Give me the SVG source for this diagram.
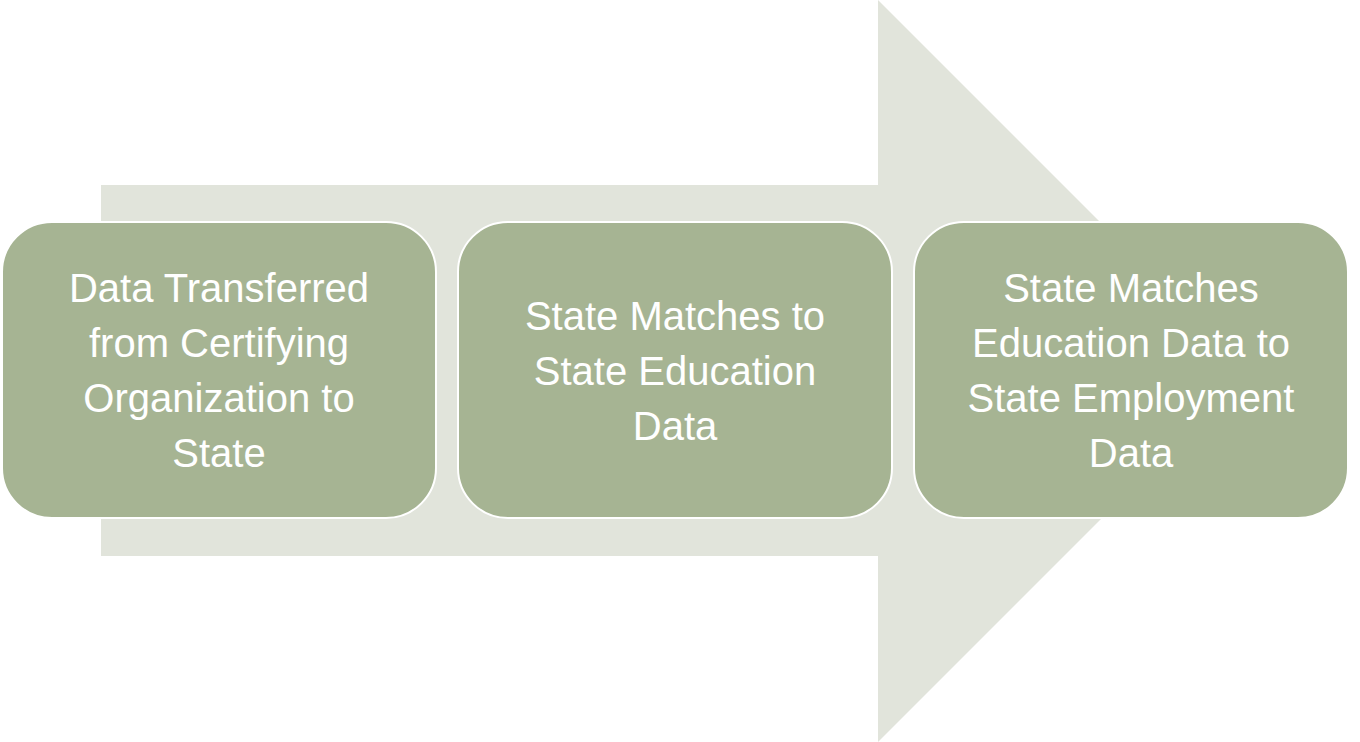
<svg xmlns="http://www.w3.org/2000/svg" width="1360" height="742" viewBox="0 0 1360 742">
<style>
.box{fill:#a6b493;stroke:#ffffff;stroke-width:2}
.t{fill:#ffffff;font-family:"Liberation Sans",Arial,sans-serif;font-size:40px;text-anchor:middle}
</style>
<rect width="1360" height="742" fill="#ffffff"/>
<g id="connectors">
<polygon points="101,185 878,185 878,0 1249,371 878,742 878,556 101,556" fill="#e1e4db"/>
</g>
<g id="node1">
<rect class="box" x="2" y="222" width="434" height="296" rx="50"/>
<text class="t" x="219"><tspan x="219" y="302">Data Transferred</tspan><tspan x="219" y="357">from Certifying</tspan><tspan x="219" y="412">Organization to</tspan><tspan x="219" y="467">State</tspan></text>
</g>
<g id="node2">
<rect class="box" x="458" y="222" width="434" height="296" rx="50"/>
<text class="t" x="675"><tspan x="675" y="330">State Matches to</tspan><tspan x="675" y="385">State Education</tspan><tspan x="675" y="440">Data</tspan></text>
</g>
<g id="node3">
<rect class="box" x="914" y="222" width="434" height="296" rx="50"/>
<text class="t" x="1131"><tspan x="1131" y="302">State Matches</tspan><tspan x="1131" y="357">Education Data to</tspan><tspan x="1131" y="412">State Employment</tspan><tspan x="1131" y="467">Data</tspan></text>
</g>
</svg>
